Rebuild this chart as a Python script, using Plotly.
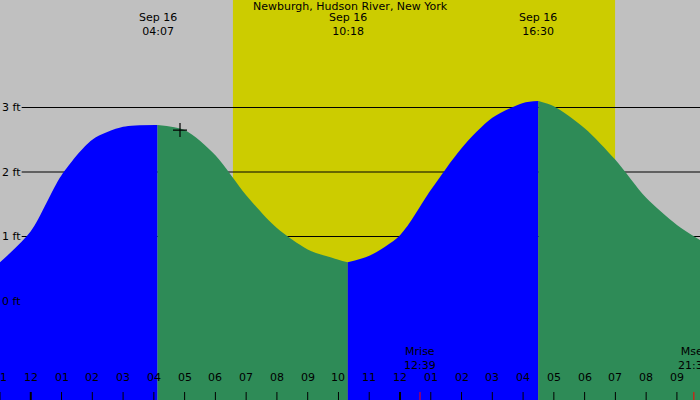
import plotly.graph_objects as go

title = "Newburgh, Hudson River, New York"
# hours relative to midnight Sep 16
hours = [-1, 0, 1, 2, 3, 4.12, 5, 6, 7, 8, 9, 10, 10.3, 11, 12, 13, 14, 15, 16, 16.5, 17, 18, 19, 20, 21, 21.8]
height = [0.6, 1.08, 1.95, 2.5, 2.7, 2.73, 2.65, 2.26, 1.64, 1.13, 0.8, 0.64, 0.6, 0.7, 1.02, 1.72, 2.37, 2.84, 3.07, 3.1, 3.02, 2.68, 2.19, 1.6, 1.18, 0.93]
extreme_hours = [4.12, 10.3, 16.5]
extreme_labels = ["Sep 16<br>04:07", "Sep 16<br>10:18", "Sep 16<br>16:30"]
tick_hours = list(range(-1, 22))
tick_text = ["11", "12", "01", "02", "03", "04", "05", "06", "07", "08", "09", "10",
             "11", "12", "01", "02", "03", "04", "05", "06", "07", "08", "09"]
grid_ft = [1, 2, 3]
day_start, day_end = 6.57, 18.99
moon_hours = [12.65, 21.55]
moon_labels = ["Mrise<br>12:39", "Mset<br>21:33"]
now_h, now_ft = 4.85, 2.65

X0, X1 = -1.0, 21.75
Y0, Y1 = -1.535, 4.667
font = "DejaVu Sans"

fig = go.Figure()
bounds = [X0] + extreme_hours + [X1 + 1]
colors = ["#0000ff", "#2e8b57", "#0000ff", "#2e8b57"]
for i in range(4):
    a, b = bounds[i], bounds[i + 1]
    xs = [h for h in hours if a <= h <= b]
    ys = [height[hours.index(h)] for h in xs]
    fig.add_trace(go.Scatter(x=xs, y=[Y0 - 1] * len(xs), mode="lines", line=dict(width=0), hoverinfo="skip"))
    fig.add_trace(go.Scatter(x=xs, y=ys, mode="lines",
                             line=dict(width=0, shape="spline", smoothing=0.8, color=colors[i]),
                             fill="tonexty", fillcolor=colors[i], hoverinfo="skip"))
fig.add_trace(go.Scatter(x=[now_h], y=[now_ft], mode="markers",
                         marker=dict(symbol="cross-thin", size=10, line=dict(width=1.2, color="black"))))

shapes = [dict(type="rect", xref="x", yref="paper", x0=day_start, x1=day_end, y0=0, y1=1,
               fillcolor="#cccc00", line_width=0, layer="below")]
for g in grid_ft:
    shapes.append(dict(type="line", xref="paper", yref="y", x0=0.031, x1=1, y0=g, y1=g,
                       line=dict(color="black", width=1), layer="below"))
ann = []
for g in grid_ft + [0]:
    ann.append(dict(x=0, xref="paper", y=g, yref="y", text=f"{g} ft", showarrow=False,
                    xanchor="left", font=dict(size=11, family=font, color="black")))
for h, t in zip(tick_hours, tick_text):
    w = 2 if h in (0, 12) else 1
    shapes.append(dict(type="line", xref="x", yref="paper", x0=h, x1=h, y0=0, y1=0.02,
                       line=dict(color="black", width=w)))
    ann.append(dict(x=h, y=0.035, xref="x", yref="paper", text=t, showarrow=False, yanchor="bottom",
                    font=dict(size=11, family=font, color="black")))
for h, t in zip(moon_hours, moon_labels):
    shapes.append(dict(type="line", xref="x", yref="paper", x0=h, x1=h, y0=0, y1=0.02,
                       line=dict(color="red", width=1)))
    ann.append(dict(x=h, y=0.065, xref="x", yref="paper", text=t, showarrow=False, yanchor="bottom",
                    font=dict(size=11, family=font, color="black")))
for h, t in zip(extreme_hours, extreme_labels):
    ann.append(dict(x=h, y=0.9, xref="x", yref="paper", text=t, showarrow=False, yanchor="bottom",
                    font=dict(size=11, family=font, color="black")))
ann.append(dict(x=0.5, y=1.005, xref="paper", yref="paper", text=title, showarrow=False, yanchor="top",
                font=dict(size=11, family=font, color="black")))

fig.update_layout(width=700, height=400, margin=dict(l=0, r=0, t=0, b=0),
                  paper_bgcolor="#c0c0c0", plot_bgcolor="#c0c0c0", showlegend=False,
                  xaxis=dict(range=[X0, X1], visible=False, fixedrange=True),
                  yaxis=dict(range=[Y0, Y1], visible=False, fixedrange=True),
                  shapes=shapes, annotations=ann)
fig.write_html("out.html", config={"displayModeBar": False},
               post_script="document.body.style.margin='0';document.body.style.overflow='hidden';")
